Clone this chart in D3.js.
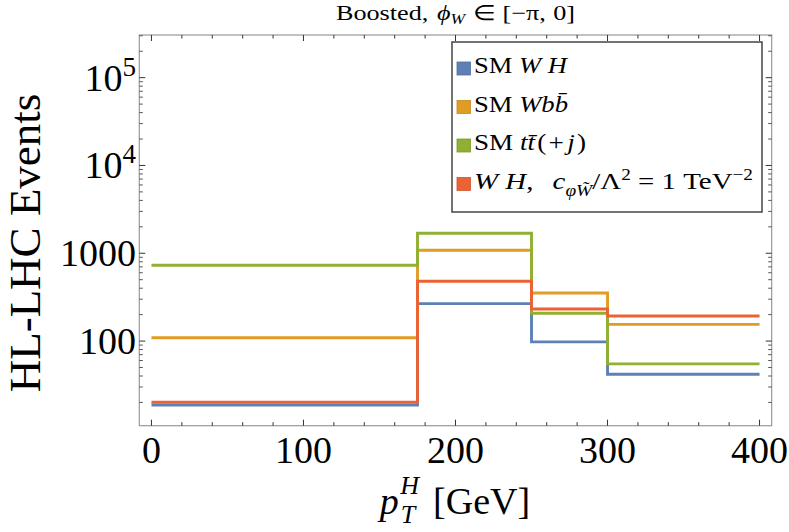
<!DOCTYPE html>
<html><head><meta charset="utf-8">
<script src="https://cdn.jsdelivr.net/npm/d3@7"></script>
<style>body{margin:0;background:#fff}svg{display:block}text{font-family:"Liberation Serif","Times New Roman",serif}</style>
</head><body><svg id="c" width="789" height="532"></svg>
<script>
// ---- data ----
const binEdges = [0, 175, 250, 300, 400];
const smWH   = [18.7, 267, 98, 41.9];
const smWbb  = [109, 1082, 353, 155];
const smTT   = [730, 1690, 207, 55];
const wHcpw  = [20.1, 480, 232, 193];
const seriesNames = ["SM WH", "SM Wbb", "SM tt(+j)", "WH cpW"];
const seriesColors = ["#5E81B5", "#E19C24", "#8FB032", "#EB6235"];
const xTicks = [0, 100, 200, 300, 400];
const yTicks = [100, 1000, 10000, 100000];

const svg = d3.select("#c");
const L = 139.3, R = 771.7, T = 35, B = 425.7;
const x = d3.scaleLinear().domain([-8, 408]).range([L, R]);
const y = d3.scaleLog().domain([Math.pow(10,1.036), Math.pow(10,5.486)]).range([B, T]);

// lines
const allSeries = [smWH, smWbb, smTT, wHcpw];
const line = d3.line().x(d => x(d[0])).y(d => y(d[1])).curve(d3.curveStepAfter);
const g = svg.append("g");
allSeries.forEach((s, i) => {
  const pts = s.map((v, k) => [binEdges[k], v]);
  pts.push([binEdges[binEdges.length-1], s[s.length-1]]);
  g.append("path").attr("d", line(pts)).attr("fill", "none")
    .attr("stroke", seriesColors[i]).attr("stroke-width", 2.9);
});

// frame
svg.append("rect").attr("x", L).attr("y", T).attr("width", R-L).attr("height", B-T)
  .attr("fill", "none").attr("stroke", "#999").attr("stroke-width", 1.2);

// x ticks
const tk = svg.append("g").attr("stroke", "#333").attr("stroke-width", 1);
for (let v = 0; v <= 400; v += 20) {
  const len = v % 100 === 0 ? 6 : 3.5;
  tk.append("line").attr("x1", x(v)).attr("x2", x(v)).attr("y1", B).attr("y2", B-len);
  tk.append("line").attr("x1", x(v)).attr("x2", x(v)).attr("y1", T).attr("y2", T+len);
}
// y ticks
const [ymin, ymax] = y.domain();
for (let e = 1; e <= 5; e++) {
  for (let m = 1; m <= 9; m++) {
    const v = m * Math.pow(10, e);
    if (v < ymin || v > ymax) continue;
    const len = m === 1 ? 6 : 3.5;
    const col = m === 1 ? "#333" : "#555";
    tk.append("line").attr("x1", L).attr("x2", L+len).attr("y1", y(v)).attr("y2", y(v)).attr("stroke", col);
    tk.append("line").attr("x1", R).attr("x2", R-len).attr("y1", y(v)).attr("y2", y(v)).attr("stroke", col);
  }
}

// x tick labels
xTicks.forEach(v => {
  svg.append("text").attr("x", x(v)).attr("y", 463).attr("text-anchor", "middle")
    .attr("font-size", 38).text(v);
});
// y tick labels
yTicks.forEach(v => {
  const t = svg.append("text").attr("x", 136).attr("y", y(v) + 13).attr("text-anchor", "end").attr("font-size", 38);
  if (v >= 10000) {
    t.append("tspan").text("10");
    t.append("tspan").attr("dy", -15).attr("font-size", 27).text(Math.round(Math.log10(v)));
  } else t.text(v);
});

// axis labels
svg.append("text").attr("transform", "translate(40,243) rotate(-90)").attr("text-anchor", "middle")
  .attr("font-size", 45).text("HL-LHC Events");
const xl = svg.append("text").attr("x", 455).attr("y", 514).attr("text-anchor", "middle").attr("font-size", 38);
xl.append("tspan").attr("font-style", "italic").text("p");
xl.append("tspan").attr("font-style", "italic").attr("font-size", 26).attr("dx", 2).attr("dy", 9).text("T");
xl.append("tspan").attr("font-style", "italic").attr("font-size", 26).attr("dx", -15).attr("dy", -29).text("H");
xl.append("tspan").attr("dy", 20).attr("dx", 14).text("[GeV]");

// title
const tt = svg.append("text").attr("x", 336).attr("y", 20).attr("font-size", 21)
  .attr("textLength", 239).attr("lengthAdjust", "spacingAndGlyphs");
tt.append("tspan").text("Boosted,");
tt.append("tspan").attr("font-style", "italic").attr("dx", 7).text("\u03D5");
tt.append("tspan").attr("font-style", "italic").attr("font-size", 14).attr("dy", 4).text("W");
tt.append("tspan").attr("dy", -4).attr("dx", 6).text("∈");
tt.append("tspan").attr("dx", 6).text("[−π,");
tt.append("tspan").attr("dx", 6).text("0]");

// legend
const lg = svg.append("g");
lg.append("rect").attr("x", 452).attr("y", 42).attr("width", 310).attr("height", 170)
  .attr("fill", "#fff").attr("stroke", "#444").attr("stroke-width", 1.5);
const rowsY = [73, 111.5, 150, 188.5];
const rowLen = [93, 94, 112, 279];
rowsY.forEach((ry, i) => {
  lg.append("rect").attr("x", 457).attr("y", ry-11).attr("width", 13.5).attr("height", 13)
    .attr("fill", seriesColors[i]).attr("stroke", d3.color(seriesColors[i]).darker(0.4)).attr("stroke-width", 0.8);
});
function lt(i) { return lg.append("text").attr("x", 474).attr("y", rowsY[i]).attr("font-size", 24)
  .attr("textLength", rowLen[i]).attr("lengthAdjust", "spacingAndGlyphs"); }
let t0 = lt(0); t0.append("tspan").text("SM "); t0.append("tspan").attr("font-style","italic").text("W H");
let t1 = lt(1); t1.append("tspan").text("SM "); t1.append("tspan").attr("font-style","italic").text("Wb");
t1.append("tspan").attr("font-style","italic").text("b\u0304");
let t2 = lt(2); t2.append("tspan").text("SM "); t2.append("tspan").attr("font-style","italic").text("t");
t2.append("tspan").attr("font-style","italic").text("t\u0304");
t2.append("tspan").attr("dx", 2).text("(");
t2.append("tspan").attr("dx", 2).text("+");
t2.append("tspan").attr("dx", 3).attr("font-style","italic").text("j");
t2.append("tspan").attr("dx", 2).text(")");
let t3 = lt(3); t3.append("tspan").attr("font-style","italic").text("W H");
t3.append("tspan").text(",");
t3.append("tspan").attr("font-style","italic").attr("dx", 16).text("c");
t3.append("tspan").attr("font-style","italic").attr("font-size", 16).attr("dy", 7).text("φW\u0303");
t3.append("tspan").attr("dy", -7).text("/Λ");
t3.append("tspan").attr("font-size", 16).attr("dy", -9).text("2");
t3.append("tspan").attr("dy", 9).attr("dx", 6).text("=");
t3.append("tspan").attr("dx", 6).text("1 TeV");
t3.append("tspan").attr("font-size", 16).attr("dy", -9).text("−2");
</script></body></html>
